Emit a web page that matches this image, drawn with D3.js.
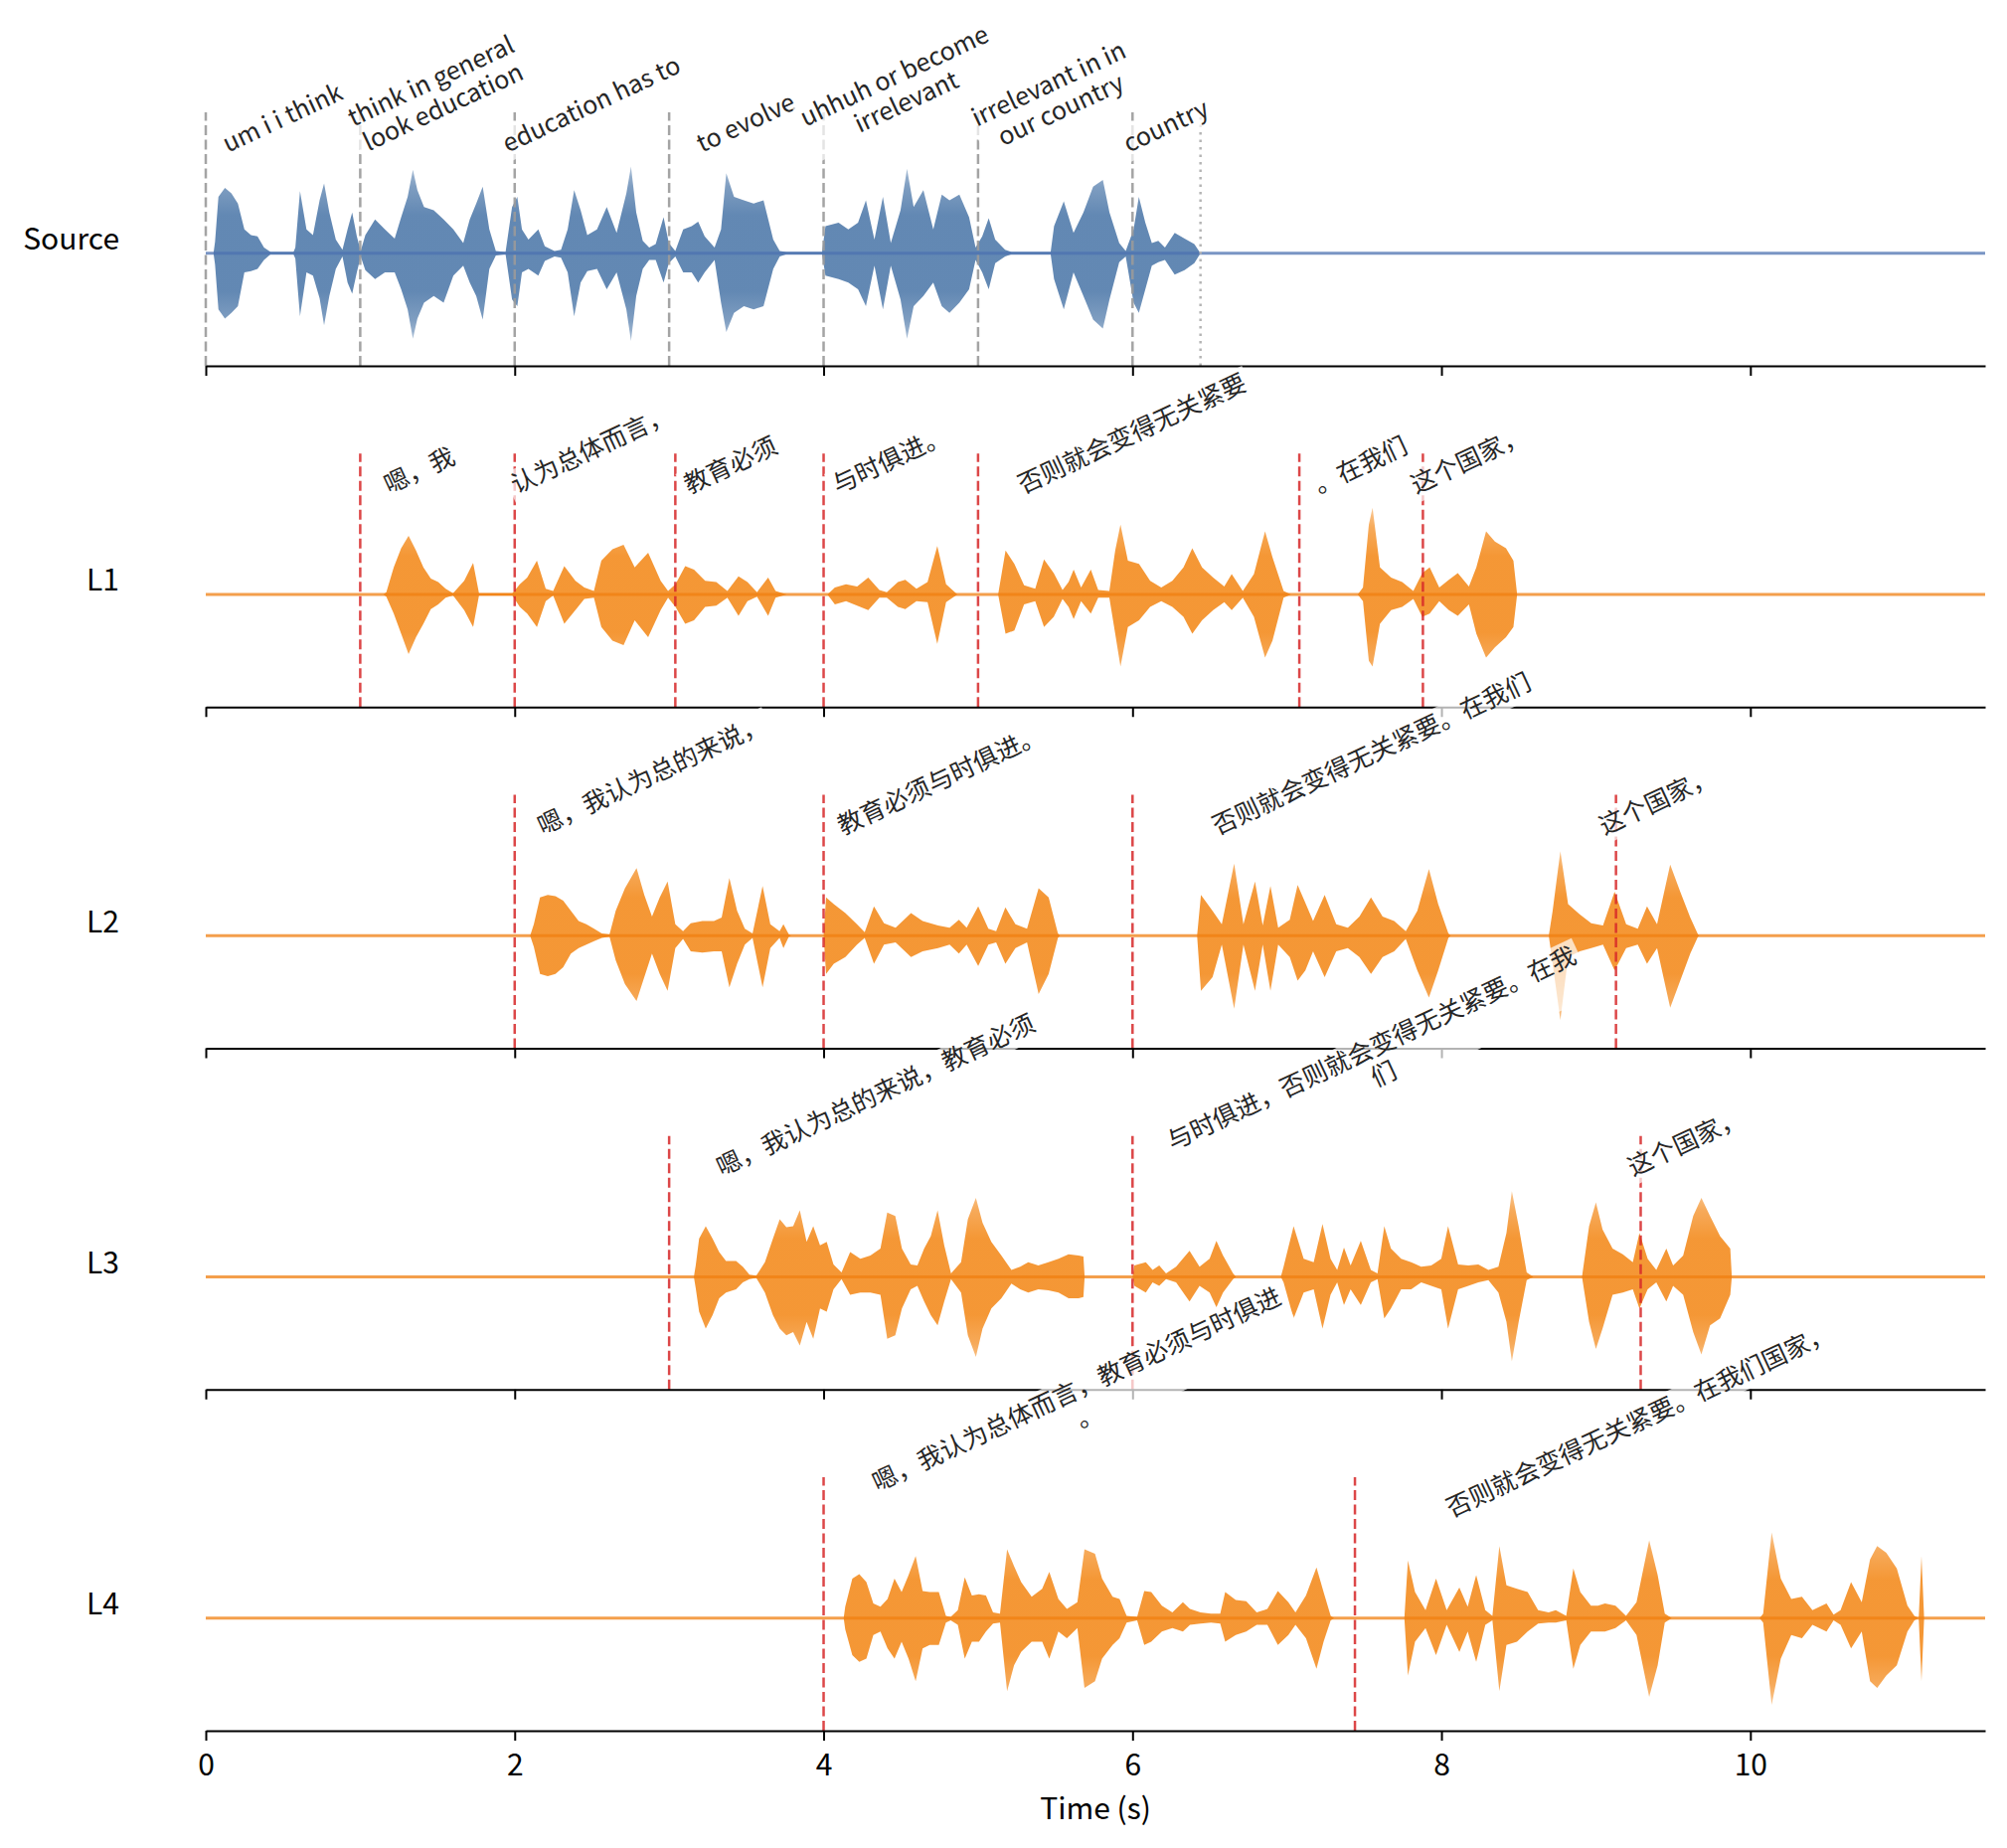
<!DOCTYPE html>
<html>
<head>
<meta charset="utf-8">
<script src="https://cdn.jsdelivr.net/npm/d3@7"></script>
<style>
  body { margin: 0; background: #fff; }
  svg text { font-family: "Noto Sans CJK SC", "Noto Sans", sans-serif; }
</style>
</head>
<body>
<svg id="chart" width="2019" height="1859"></svg>
<script>
// ---- data ----
const rowNames = ["Source", "L1", "L2", "L3", "L4"];
const timeTicks = [0, 2, 4, 6, 8, 10];
const timeMax = 11.52;

// chunk start (s), audio length (s) and text per row
const sourceStarts = [0, 1, 2, 3, 4, 5, 6];
const sourceDurs = [1, 1, 1, 1, 1, 1, 0.44];
const sourceTexts = ["um i i think", "think in general\nlook education", "education has to", "to evolve",
  "uhhuh or become\nirrelevant", "irrelevant in in\nour country", "country"];
const sourceEnd = 6.44;

const l1Starts = [1.0, 2.0, 3.04, 4.0, 5.0, 7.08, 7.88];
const l1Durs = [0.77, 1.0, 0.72, 0.87, 2.0, 0.8, 0.6];
const l1Texts = ["嗯，我", "认为总体而言，", "教育必须", "与时俱进。", "否则就会变得无关紧要", "。在我们", "这个国家，"];

const l2Starts = [2.0, 4.0, 6.0, 9.13];
const l2Durs = [1.78, 1.52, 3.1, 0.54];
const l2Texts = ["嗯，我认为总的来说，", "教育必须与时俱进。", "否则就会变得无关紧要。在我们", "这个国家，"];

const l3Starts = [3.0, 6.0, 9.29];
const l3Durs = [2.68, 3.18, 0.59];
const l3Texts = ["嗯，我认为总的来说，教育必须", "与时俱进，否则就会变得无关紧要。在我\n们", "这个国家，"];

const l4Starts = [4.0, 7.44];
const l4Durs = [3.36, 3.69];
const l4Texts = ["嗯，我认为总体而言，教育必须与时俱进\n。", "否则就会变得无关紧要。在我们国家，"];

// waveform envelopes: [time, upper amplitude, lower amplitude]
const sourceEnv = [[0.05,0,0],[0.06,.10,.10],[0.082,.50,.50],[0.124,.58,.58],[0.166,.53,.53],[0.208,.44,.47],[0.25,.21,.17],[0.293,.16,.16],[0.335,.15,.14],[0.377,.05,.06],[0.42,.01,.01],[0.568,.01,.01],[0.58,.05,.05],[0.61,.55,.56],[0.652,.21,.17],[0.694,.16,.20],[0.737,.47,.40],[0.766,.62,.64],[0.80,.36,.38],[0.842,.12,.14],[0.885,.03,.03],[0.918,.21,.26],[0.948,.36,.36],[0.978,.15,.17],[1.003,.02,.03],[1.033,.16,.15],[1.096,.30,.23],[1.16,.21,.17],[1.223,.13,.17],[1.265,.32,.32],[1.307,.50,.50],[1.341,.74,.76],[1.37,.56,.58],[1.413,.41,.44],[1.476,.38,.38],[1.54,.30,.44],[1.603,.21,.20],[1.667,.09,.11],[1.709,.30,.26],[1.751,.44,.38],[1.793,.59,.59],[1.836,.21,.14],[1.878,.02,.02],[1.941,.01,.01],[1.983,.41,.41],[2.017,.50,.47],[2.047,.21,.17],[2.089,.12,.14],[2.153,.21,.20],[2.195,.06,.07],[2.258,.02,.03],[2.30,.03,.04],[2.343,.21,.17],[2.385,.56,.56],[2.427,.38,.26],[2.47,.16,.16],[2.533,.21,.14],[2.596,.41,.32],[2.66,.18,.17],[2.723,.53,.50],[2.753,.77,.78],[2.787,.36,.38],[2.829,.11,.14],[2.871,.05,.06],[2.913,.08,.06],[2.964,.32,.26],[2.998,.09,.09],[3.04,.02,.03],[3.091,.21,.17],[3.146,.24,.17],[3.188,.28,.26],[3.23,.15,.17],[3.294,.05,.06],[3.336,.21,.44],[3.37,.71,.70],[3.42,.50,.53],[3.484,.47,.47],[3.547,.44,.50],[3.611,.47,.47],[3.674,.12,.14],[3.716,.02,.03],[3.759,.01,.01],[3.99,.01,.01],[4.012,.24,.20],[4.097,.27,.23],[4.16,.21,.26],[4.223,.27,.32],[4.274,.47,.47],[4.329,.12,.11],[4.384,.50,.50],[4.435,.09,.11],[4.498,.38,.41],[4.54,.75,.76],[4.583,.41,.47],[4.646,.56,.38],[4.71,.21,.26],[4.765,.52,.47],[4.815,.47,.53],[4.879,.52,.44],[4.942,.32,.32],[4.984,.05,.06],[5.027,.15,.17],[5.069,.31,.32],[5.111,.12,.09],[5.175,.03,.03],[5.217,.01,.01],[5.47,.01,.01],[5.492,.24,.23],[5.555,.46,.50],[5.618,.18,.17],[5.682,.36,.38],[5.745,.59,.59],[5.808,.65,.67],[5.851,.36,.41],[5.914,.09,.08],[5.956,.02,.03],[6.007,.21,.44],[6.041,.50,.53],[6.083,.27,.32],[6.125,.09,.11],[6.167,.11,.08],[6.21,.05,.06],[6.273,.18,.19],[6.337,.13,.15],[6.40,.08,.09],[6.44,0,0]];

const l1Env = [[1.15,0,0],[1.169,.02,.02],[1.217,.24,.17],[1.265,.41,.35],[1.313,.52,.53],[1.361,.39,.38],[1.409,.24,.26],[1.457,.14,.13],[1.505,.11,.09],[1.553,.05,.03],[1.601,.01,.01],[1.673,.12,.14],[1.731,.28,.29],[1.769,.01,.01],[1.985,.01,.01],[2.033,.09,.11],[2.081,.15,.17],[2.144,.30,.29],[2.201,.05,.06],[2.249,.03,.01],[2.321,.25,.26],[2.393,.12,.14],[2.451,.06,.04],[2.513,.03,.03],[2.561,.30,.29],[2.633,.40,.41],[2.705,.44,.45],[2.777,.24,.23],[2.864,.37,.38],[2.945,.12,.14],[2.993,.03,.03],[3.041,.09,.11],[3.104,.25,.26],[3.161,.22,.23],[3.233,.12,.11],[3.305,.11,.10],[3.377,.03,.03],[3.449,.16,.19],[3.507,.11,.06],[3.569,.02,.02],[3.641,.15,.19],[3.689,.03,.03],[3.761,0,0],[4.025,0,0],[4.073,.06,.09],[4.145,.09,.06],[4.217,.07,.10],[4.289,.15,.14],[4.361,.04,.03],[4.409,.02,.03],[4.481,.11,.11],[4.529,.13,.13],[4.601,.05,.06],[4.673,.11,.07],[4.736,.43,.44],[4.793,.09,.07],[4.866,0,0],[5.13,0,0],[5.178,.39,.35],[5.235,.27,.32],[5.298,.08,.09],[5.37,.05,.06],[5.427,.31,.29],[5.49,.19,.20],[5.547,.04,.04],[5.586,.11,.11],[5.619,.22,.22],[5.667,.06,.06],[5.73,.22,.17],[5.778,.04,.03],[5.85,.03,.03],[5.888,.39,.35],[5.922,.62,.64],[5.97,.30,.29],[6.042,.27,.23],[6.114,.12,.11],[6.186,.06,.06],[6.258,.12,.11],[6.33,.24,.20],[6.387,.41,.35],[6.45,.24,.23],[6.522,.15,.14],[6.594,.07,.07],[6.642,.18,.14],[6.714,.03,.03],[6.786,.18,.20],[6.858,.56,.56],[6.906,.33,.41],[6.978,.03,.03],[7.026,0,0],[7.458,0,0],[7.492,.06,.06],[7.53,.62,.59],[7.554,.77,.64],[7.602,.24,.26],[7.674,.15,.14],[7.746,.11,.11],[7.818,.03,.04],[7.876,.19,.20],[7.924,.24,.17],[7.986,.06,.06],[8.048,.13,.14],[8.106,.19,.19],[8.178,.07,.09],[8.226,.24,.35],[8.289,.56,.56],[8.346,.47,.47],[8.418,.41,.38],[8.466,.30,.29],[8.49,0,0]];

const l2Env = [[2.10,0,0],[2.124,.10,.10],[2.164,.34,.34],[2.214,.36,.36],[2.264,.35,.34],[2.314,.31,.28],[2.364,.22,.16],[2.414,.13,.11],[2.464,.10,.08],[2.514,.06,.05],[2.564,.02,.02],[2.614,.01,.01],[2.654,.22,.22],[2.714,.42,.43],[2.789,.60,.58],[2.839,.36,.37],[2.889,.17,.16],[2.939,.34,.34],[2.99,.48,.49],[3.04,.10,.11],[3.09,.04,.03],[3.14,.11,.14],[3.215,.13,.15],[3.29,.13,.14],[3.34,.16,.14],[3.39,.51,.46],[3.44,.22,.25],[3.49,.06,.08],[3.54,.02,.02],[3.605,.44,.46],[3.655,.10,.11],[3.715,.04,.02],[3.74,.10,.11],[3.775,.01,.01],[3.79,0,0],[4.0,0,0],[4.016,.34,.34],[4.066,.28,.25],[4.141,.20,.19],[4.216,.10,.08],[4.266,.03,.02],[4.326,.26,.25],[4.391,.11,.08],[4.466,.07,.06],[4.566,.20,.19],[4.641,.13,.14],[4.741,.09,.11],[4.816,.07,.08],[4.876,.14,.16],[4.926,.07,.08],[5.001,.26,.27],[5.067,.06,.08],[5.117,.04,.06],[5.177,.25,.25],[5.242,.10,.11],[5.317,.06,.06],[5.392,.42,.52],[5.457,.34,.34],[5.517,.02,.02],[5.53,0,0],[6.418,0,0],[6.443,.36,.49],[6.518,.22,.37],[6.578,.10,.08],[6.658,.64,.65],[6.718,.10,.08],[6.793,.48,.49],[6.843,.09,.08],[6.893,.44,.49],[6.943,.07,.08],[7.018,.14,.19],[7.069,.45,.40],[7.119,.29,.31],[7.169,.13,.14],[7.244,.36,.37],[7.319,.10,.14],[7.394,.07,.11],[7.469,.17,.19],[7.544,.34,.34],[7.619,.17,.19],[7.694,.13,.14],[7.769,.04,.03],[7.844,.22,.31],[7.919,.59,.55],[7.979,.28,.31],[8.045,.02,.02],[8.06,0,0],[8.695,0,0],[8.72,.22,.25],[8.77,.75,.75],[8.82,.28,.19],[8.895,.19,.14],[8.97,.11,.11],[9.046,.09,.08],[9.121,.39,.31],[9.196,.10,.11],[9.271,.06,.08],[9.331,.26,.25],[9.396,.10,.11],[9.481,.63,.64],[9.546,.39,.40],[9.611,.16,.16],[9.661,.01,.01],[9.67,0,0]];

const l3Env = [[3.16,0,0],[3.172,.10,.10],[3.194,.34,.31],[3.237,.45,.46],[3.281,.34,.34],[3.324,.22,.19],[3.368,.14,.14],[3.433,.14,.11],[3.477,.09,.05],[3.52,.02,.02],[3.564,.01,.01],[3.62,.13,.14],[3.672,.34,.34],[3.716,.51,.46],[3.759,.44,.52],[3.803,.45,.49],[3.846,.59,.61],[3.89,.31,.40],[3.933,.45,.55],[3.977,.28,.28],[4.02,.31,.31],[4.064,.11,.11],[4.116,.04,.02],[4.172,.22,.16],[4.238,.16,.14],[4.303,.19,.14],[4.368,.25,.16],[4.412,.57,.55],[4.464,.54,.52],[4.507,.25,.28],[4.564,.11,.11],[4.607,.10,.08],[4.651,.25,.22],[4.694,.36,.34],[4.738,.59,.43],[4.781,.28,.22],[4.825,.03,.02],[4.89,.13,.14],[4.934,.51,.52],[4.986,.70,.71],[5.029,.48,.46],[5.086,.31,.28],[5.151,.19,.19],[5.216,.06,.06],[5.273,.09,.11],[5.325,.13,.14],[5.39,.10,.11],[5.455,.13,.12],[5.521,.16,.14],[5.586,.20,.19],[5.651,.19,.19],[5.682,.18,.18],[5.69,0,0],[6.0,0,0],[6.012,.10,.08],[6.086,.13,.14],[6.13,.06,.05],[6.173,.10,.08],[6.217,.03,.02],[6.282,.09,.05],[6.369,.23,.22],[6.434,.09,.08],[6.499,.16,.14],[6.543,.32,.27],[6.586,.19,.14],[6.651,.03,.02],[6.67,0,0],[6.96,0,0],[6.978,.09,.05],[7.043,.45,.37],[7.108,.16,.14],[7.173,.13,.11],[7.23,.47,.46],[7.282,.16,.16],[7.325,.06,.05],[7.369,.26,.25],[7.412,.10,.11],[7.478,.32,.25],[7.543,.06,.05],[7.586,.03,.02],[7.63,.45,.37],[7.673,.25,.28],[7.739,.16,.11],[7.804,.13,.11],[7.869,.09,.05],[7.934,.10,.08],[7.999,.16,.11],[8.043,.45,.46],[8.108,.11,.11],[8.174,.10,.08],[8.239,.11,.05],[8.304,.06,.03],[8.369,.09,.14],[8.421,.39,.40],[8.456,.76,.75],[8.5,.45,.40],[8.552,.04,.03],[8.595,0,0],[8.91,0,0],[8.956,.45,.40],[9.0,.66,.64],[9.043,.42,.46],[9.108,.25,.16],[9.174,.20,.14],[9.239,.13,.11],[9.282,.39,.28],[9.335,.16,.11],[9.391,.06,.05],[9.456,.25,.22],[9.5,.10,.08],[9.565,.19,.16],[9.63,.54,.49],[9.683,.70,.69],[9.739,.54,.43],[9.804,.36,.37],[9.87,.25,.16],[9.88,0,0]];

const l4Env = [[4.13,0,0],[4.14,.10,.10],[4.186,.35,.33],[4.231,.39,.39],[4.277,.32,.36],[4.322,.13,.15],[4.368,.10,.12],[4.414,.17,.27],[4.459,.35,.36],[4.505,.23,.21],[4.55,.38,.36],[4.596,.55,.56],[4.641,.24,.27],[4.687,.23,.24],[4.746,.23,.24],[4.792,.02,.04],[4.823,.01,.02],[4.869,.07,.06],[4.914,.36,.36],[4.96,.20,.21],[5.006,.21,.21],[5.051,.20,.12],[5.097,.05,.05],[5.142,.04,.04],[5.188,.61,.65],[5.233,.46,.42],[5.279,.32,.30],[5.347,.19,.21],[5.415,.26,.21],[5.461,.41,.36],[5.52,.17,.12],[5.575,.08,.18],[5.643,.14,.09],[5.689,.61,.62],[5.757,.57,.56],[5.803,.35,.36],[5.871,.19,.24],[5.916,.17,.18],[5.962,.02,.04],[6.03,.01,.02],[6.076,.24,.24],[6.121,.23,.21],[6.19,.11,.12],[6.258,.05,.09],[6.326,.14,.12],[6.372,.08,.06],[6.44,.05,.05],[6.508,.04,.04],[6.568,.04,.05],[6.6,.23,.21],[6.668,.16,.15],[6.736,.15,.12],[6.804,.05,.06],[6.873,.08,.06],[6.941,.24,.24],[7.009,.14,.15],[7.055,.05,.06],[7.123,.20,.18],[7.191,.45,.45],[7.237,.23,.21],[7.283,.02,.02],[7.305,0,0],[7.76,0,0],[7.783,.51,.51],[7.829,.23,.21],[7.897,.07,.09],[7.965,.35,.33],[8.034,.07,.06],[8.116,.27,.30],[8.17,.10,.12],[8.225,.38,.39],[8.284,.07,.06],[8.33,.02,.02],[8.375,.64,.65],[8.421,.29,.24],[8.489,.26,.21],[8.558,.23,.12],[8.626,.07,.05],[8.694,.05,.04],[8.74,.07,.04],[8.808,.02,.02],[8.854,.44,.45],[8.899,.23,.24],[8.968,.11,.12],[9.013,.11,.12],[9.059,.13,.12],[9.127,.11,.09],[9.195,.02,.02],[9.263,.14,.15],[9.345,.69,.70],[9.4,.38,.42],[9.446,.04,.04],[9.491,0,0],[10.06,0,0],[10.083,.04,.04],[10.138,.76,.77],[10.197,.35,.36],[10.265,.17,.15],[10.334,.19,.18],[10.402,.07,.06],[10.493,.13,.12],[10.539,.03,.02],[10.584,.07,.06],[10.652,.32,.27],[10.721,.14,.12],[10.775,.52,.56],[10.821,.64,.62],[10.88,.58,.51],[10.948,.44,.42],[11.017,.11,.12],[11.062,.02,.02],[11.09,0,0],[11.108,.55,.56],[11.125,0,0]];

// ---- chart ----
const rows = [
  { name: rowNames[0], env: sourceEnv, starts: sourceStarts, durs: sourceDurs, texts: sourceTexts, source: true },
  { name: rowNames[1], env: l1Env, starts: l1Starts, durs: l1Durs, texts: l1Texts },
  { name: rowNames[2], env: l2Env, starts: l2Starts, durs: l2Durs, texts: l2Texts },
  { name: rowNames[3], env: l3Env, starts: l3Starts, durs: l3Durs, texts: l3Texts },
  { name: rowNames[4], env: l4Env, starts: l4Starts, durs: l4Durs, texts: l4Texts }
];

const svg = d3.select("#chart");
svg.append("rect").attr("width", 2019).attr("height", 1859).attr("fill", "#fff");
const defs = svg.append("defs");

const x = d3.scaleLinear().domain([0, timeMax]).range([207, 1997]);
const rowH = 255, rowStep = 343.25, firstBottom = 368;
const labelAngle = -25;
const labelSize = 25;

rows.forEach((row, i) => {
  const yb = firstBottom + i * rowStep;
  const y = d3.scaleLinear().domain([-1, 1.25]).range([yb, yb - rowH]);
  const g = svg.append("g").attr("class", "row");
  const fillCol = row.source ? "#4d78a9" : "#f3891a";
  const lineCol = row.source ? "#4c72b0" : "#f07f10";

  // soft edges on the tall spikes, solid near the zero line
  const grad = defs.append("linearGradient")
    .attr("id", "fade" + i)
    .attr("gradientUnits", "userSpaceOnUse")
    .attr("x1", 0).attr("x2", 0)
    .attr("y1", y(0.85)).attr("y2", y(-0.85));
  [[0, 0.35], [0.15, 0.72], [0.3, 0.88], [0.7, 0.88], [0.85, 0.72], [1, 0.35]].forEach(([o, op]) => {
    grad.append("stop").attr("offset", o).attr("stop-color", fillCol).attr("stop-opacity", op);
  });

  // waveform envelope
  const area = d3.area()
    .x(d => x(d[0]))
    .y0(d => y(-d[2]))
    .y1(d => y(d[1]));
  g.append("path").datum(row.env)
    .attr("d", area)
    .attr("fill", `url(#fade${i})`);

  // zero line over the full span
  g.append("line")
    .attr("x1", x(0)).attr("x2", x(timeMax))
    .attr("y1", y(0)).attr("y2", y(0))
    .attr("stroke", lineCol).attr("stroke-width", 3).attr("stroke-opacity", 0.75);

  // segment boundaries
  g.selectAll(".seg").data(row.starts).join("line")
    .attr("class", "seg")
    .attr("x1", d => x(d)).attr("x2", d => x(d))
    .attr("y1", y(-1)).attr("y2", y(1.25))
    .attr("stroke", row.source ? "#9a9a9a" : "#d62728")
    .attr("stroke-opacity", row.source ? 0.9 : 0.85)
    .attr("stroke-width", 2.5)
    .attr("stroke-dasharray", "10,4.5");
  if (row.source) {
    g.append("line")
      .attr("x1", x(sourceEnd)).attr("x2", x(sourceEnd))
      .attr("y1", y(-1)).attr("y2", y(1.25))
      .attr("stroke", "#b5b5b5").attr("stroke-width", 2.5)
      .attr("stroke-dasharray", "2.5,5");
  }

  // bottom axis
  const axis = d3.axisBottom(x)
    .tickValues(timeTicks)
    .tickSize(10)
    .tickSizeOuter(0)
    .tickPadding(14)
    .tickFormat(i === rows.length - 1 ? d3.format("d") : () => "");
  const ag = g.append("g").attr("transform", `translate(0,${yb})`).call(axis);
  ag.select(".domain").attr("stroke", "#000").attr("stroke-width", 2);
  ag.selectAll(".tick line").attr("stroke", "#000").attr("stroke-width", 2);
  ag.selectAll(".tick text")
    .attr("fill", "#000")
    .style("font-size", "30px")
    .style("font-family", '"Noto Sans CJK SC", sans-serif');

  // row name
  g.append("text")
    .attr("x", 120).attr("y", (yb - rowH / 2) + 10.5)
    .attr("text-anchor", "end")
    .style("font-size", "30px")
    .attr("fill", "#000")
    .text(row.name);

  // rotated chunk labels with translucent white box
  row.starts.forEach((s, k) => {
    const cx = x(s + row.durs[k] / 2);
    const by = y(0.85);
    const lines = row.texts[k].split("\n");
    const lineStep = 1.15 * labelSize;
    const lg = g.append("g");
    const t = lg.append("text")
      .attr("text-anchor", "middle")
      .style("font-size", labelSize + "px")
      .attr("fill", "#262626");
    lines.forEach((ln, j) => {
      t.append("tspan").attr("x", 0).attr("y", j * lineStep).text(ln);
    });
    // tight box around the glyphs (not the tall font line box)
    const w = d3.max(t.selectAll("tspan").nodes(), n => n.getComputedTextLength());
    const bx = -w / 2, bw = w;
    const by0 = -0.8 * labelSize;
    const bh = 0.8 * labelSize + (lines.length - 1) * lineStep + 0.2 * labelSize;
    const pad = 4;
    lg.insert("rect", "text")
      .attr("x", bx - pad).attr("y", by0 - pad)
      .attr("width", bw + 2 * pad).attr("height", bh + 2 * pad)
      .attr("fill", "#fff").attr("fill-opacity", 0.7);
    const a = labelAngle * Math.PI / 180;
    const pts = [[bx, by0], [bx + bw, by0], [bx, by0 + bh], [bx + bw, by0 + bh]]
      .map(([px, py]) => [px * Math.cos(a) - py * Math.sin(a), px * Math.sin(a) + py * Math.cos(a)]);
    const minX = d3.min(pts, p => p[0]), maxX = d3.max(pts, p => p[0]);
    const maxY = d3.max(pts, p => p[1]);
    lg.attr("transform", `translate(${cx - (minX + maxX) / 2},${by - maxY}) rotate(${labelAngle})`);
  });
});

// x axis title
svg.append("text")
  .attr("x", (x(0) + x(timeMax)) / 2).attr("y", 1830)
  .attr("text-anchor", "middle")
  .style("font-size", "30px")
  .attr("fill", "#000")
  .text("Time (s)");
</script>
</body>
</html>
